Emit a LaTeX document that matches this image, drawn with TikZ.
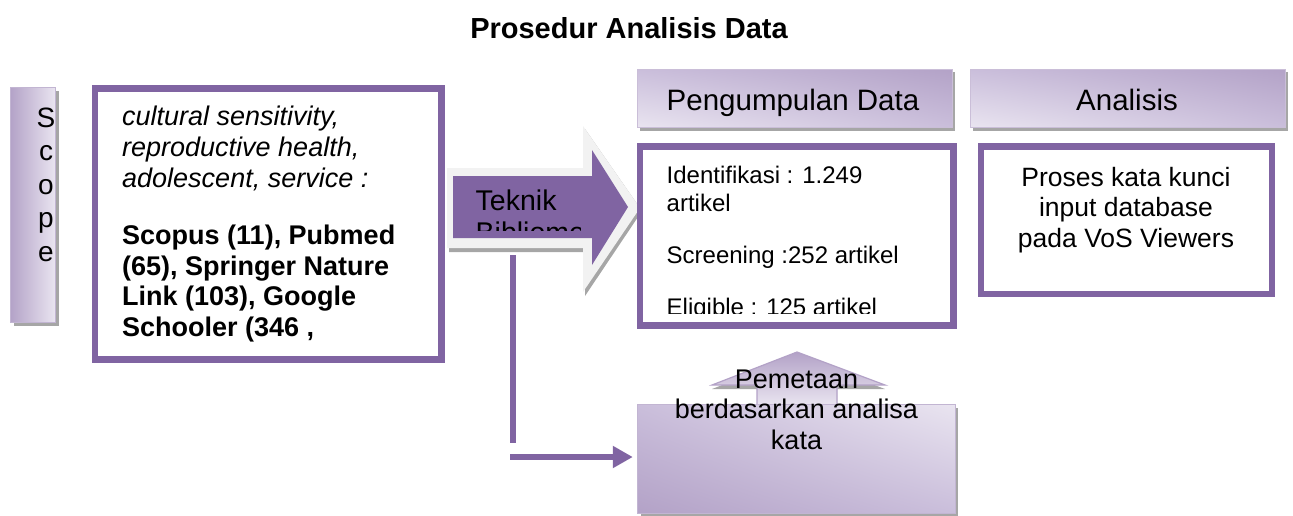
\documentclass[tikz,border=0pt]{standalone}
\usepackage{fontspec}
\setmainfont{Liberation Sans}
\usetikzlibrary{arrows.meta,shadings}
\definecolor{ppl}{HTML}{8064A2}
\definecolor{lav}{HTML}{B3A2C7}
\definecolor{lavmid}{HTML}{CABEDB}
\definecolor{lavlt}{HTML}{E9E4F0}
\definecolor{shd}{HTML}{A6A6A6}
\definecolor{bevel}{HTML}{F2F2F2}
\tikzset{
  frame/.style={draw=ppl, line width=6.5pt, inner sep=0pt, fill=white},
  txt/.style={inner sep=0pt, text=black},
  hdr/.style={upper left=lavmid, upper right=lav, lower left=lavlt, lower right=lavmid, draw=lav!70, line width=0.6pt},
  link/.style={draw=ppl, line width=6.5pt},
}
\begin{document}
\begin{tikzpicture}[x=1pt,y=-1pt]
\useasboundingbox (0,0) rectangle (1293,515);

% title
\node[txt, anchor=base, font=\fontsize{29}{34}\selectfont\bfseries] (title) at (629,38) {Prosedur Analisis Data};

% scope bar
\fill[shd] (14,91) rectangle (59,326);
\shade[left color=lav, right color=lavlt, draw=lav!80, line width=0.6pt] (10,87) rectangle (55,322);
\foreach \l/\yy [count=\i] in {S/127,c/160,o/194,p/227,e/261}
  \node[txt, anchor=base, font=\fontsize{28}{33}\selectfont] (scope\i) at (46,\yy) {\l};

% left source box
\node[frame, minimum width=346.5pt, minimum height=271pt] (src) at (268.25,224) {};
\node[txt, anchor=north west, align=left, font=\fontsize{27}{31}\selectfont\itshape] (kw) at (122,105.8)
  {cultural sensitivity,\\reproductive health,\\adolescent, service :};
\node[txt, anchor=north west, align=left, font=\fontsize{27}{30.8}\selectfont\bfseries] (db) at (122,224.5)
  {Scopus (11), Pubmed\\(65), Springer Nature\\Link (103), Google\\Schooler (346 ,};

% big right arrow (Teknik Bibliometrik)
\fill[shd] (449,171) -- (585,171) -- (585,129) -- (642,211) -- (585,296) -- (585,252) -- (449,252) -- cycle;
\fill[bevel] (447,168) -- (583,168) -- (583,126) -- (640,208) -- (583,292) -- (583,248) -- (447,248) -- cycle;
\fill[ppl] (453,176) -- (592,176) -- (592,150) -- (628,207) -- (592,265) -- (592,238) -- (453,238) -- cycle;
\begin{scope}
  \clip (453,150) rectangle (580,230);
  \node[txt, anchor=north west, align=left, font=\fontsize{28.5}{32}\selectfont] (tek) at (475.5,189.6) {Teknik\\Bibliometrik};
\end{scope}

% headers
\fill[shd] (640,72) rectangle (955,131);
\shade[hdr] (637,69) rectangle (952,127);
\node[txt, anchor=base, font=\fontsize{29.5}{34}\selectfont] (h1) at (793,110) {Pengumpulan Data};
\fill[shd] (973,72) rectangle (1288,131);
\shade[hdr] (970,69) rectangle (1285,127);
\node[txt, anchor=base, font=\fontsize{29.5}{34}\selectfont] (h2) at (1127,110) {Analisis};

% data box
\node[frame, minimum width=313.5pt, minimum height=179pt] (data) at (796.75,236) {};
\begin{scope}
  \clip (644,150) rectangle (950,313);
  \node[txt, anchor=north west, align=left, font=\fontsize{24}{28}\selectfont] (dtext) at (666.5,165.6)
    {Identifikasi : 1.249\\artikel\\[24pt]Screening :252 artikel\\[24pt]Eligible : 125 artikel};
\end{scope}

% analysis box
\node[frame, minimum width=291pt, minimum height=147.5pt] (ana) at (1126.5,220.25) {};
\node[txt, anchor=north, align=center, font=\fontsize{26.5}{30.5}\selectfont] (atext) at (1126,166.8)
  {Proses kata kunci\\input database\\pada VoS Viewers};

% up arrow
\fill[shd] (757,409) -- (757,389) -- (712,389) -- (797,356) -- (885,389) -- (837,389) -- (837,409) -- cycle;
\shade[top color=lav, bottom color=lavlt, draw=lav, line width=1.2pt]
  (757,405) -- (757,385) -- (712,385) -- (797,352) -- (885,385) -- (837,385) -- (837,405) -- cycle;

% mapping box
\node[minimum width=317pt, minimum height=108pt, inner sep=0pt] (pem) at (796.5,459) {};
\fill[shd] ([shift={(3,3)}]pem.north west) rectangle ([shift={(3,3)}]pem.south east);
\shade[upper left=lavmid, upper right=lavlt, lower left=lav, lower right=lavmid, draw=lav!80, line width=0.8pt]
  (pem.north west) rectangle (pem.south east);
\node[txt, anchor=north, align=center, font=\fontsize{27}{30.5}\selectfont] (ptext) at (796.5,369.5)
  {Pemetaan\\berdasarkan analisa\\kata};

% connector
\coordinate (v0) at (513,255);
\coordinate (v1) at (513,443);
\coordinate (h0) at (510,457);
\draw[link] (v0) -- (v1);
\draw[link, -{Triangle[length=20pt,width=21pt]}, shorten >=5pt] (h0) -- (h0 -| pem.west);
\end{tikzpicture}
\end{document}
